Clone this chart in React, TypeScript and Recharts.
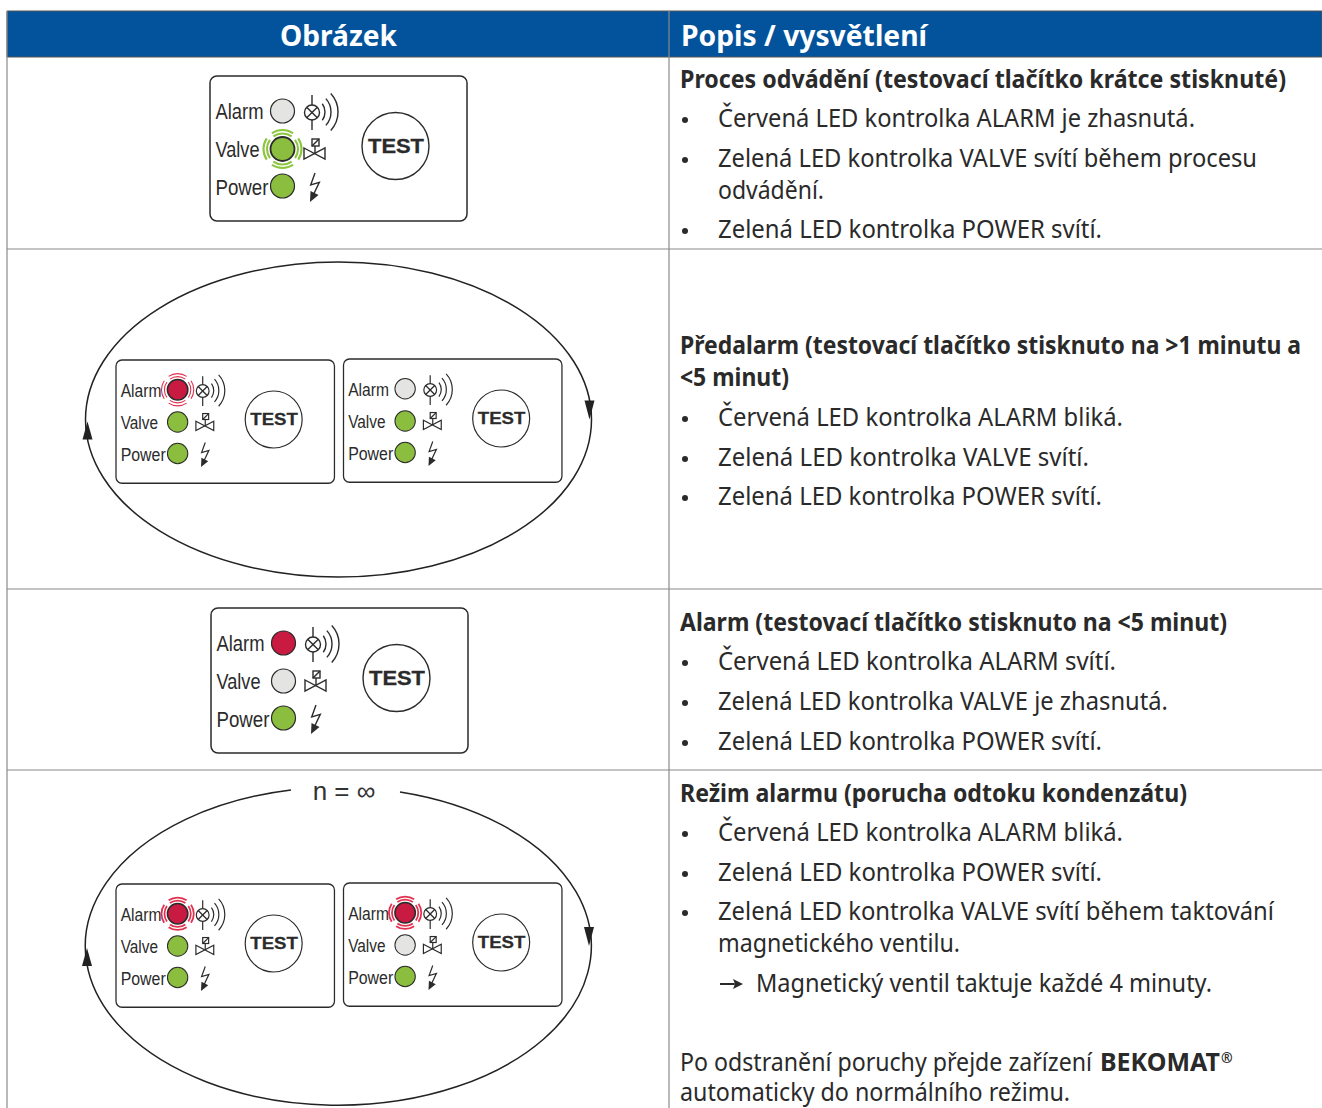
import React from 'react';
import { ScatterChart, Scatter, XAxis, YAxis, ReferenceArea, ReferenceLine } from 'recharts';

const WIDTH = 1322;
const HEIGHT = 1108;
const TEXT_FONT = '"Noto Sans", sans-serif';
const PANEL_FONT = '"Liberation Sans", Arial, sans-serif';

// Table structure
const rowLines = [249, 589, 770];
const columnLines = [7, 669];

// x / end are where each line starts and stops, y is its baseline
const headerLabels = [
  { x: 280, end: 397, y: 46, text: 'Obrázek' },
  { x: 681, end: 927, y: 46, text: 'Popis / vysvětlení' },
];

const headingLines = [
  { x: 680, end: 1286, y: 88, text: 'Proces odvádění (testovací tlačítko krátce stisknuté)' },
  { x: 680, end: 1301, y: 354, text: 'Předalarm (testovací tlačítko stisknuto na >1 minutu a' },
  { x: 680, end: 789, y: 386, text: '<5 minut)' },
  { x: 680, end: 1227, y: 631, text: 'Alarm (testovací tlačítko stisknuto na <5 minut)' },
  { x: 680, end: 1187, y: 802, text: 'Režim alarmu (porucha odtoku kondenzátu)' },
  { x: 1100, end: 1220, y: 1071, text: 'BEKOMAT' },
];

const bodyLines = [
  { x: 718, end: 1195, y: 127, text: 'Červená LED kontrolka ALARM je zhasnutá.' },
  { x: 718, end: 1257, y: 167, text: 'Zelená LED kontrolka VALVE svítí během procesu' },
  { x: 718, end: 824, y: 199, text: 'odvádění.' },
  { x: 718, end: 1102, y: 238, text: 'Zelená LED kontrolka POWER svítí.' },
  { x: 718, end: 1123, y: 426, text: 'Červená LED kontrolka ALARM bliká.' },
  { x: 718, end: 1089, y: 466, text: 'Zelená LED kontrolka VALVE svítí.' },
  { x: 718, end: 1102, y: 505, text: 'Zelená LED kontrolka POWER svítí.' },
  { x: 718, end: 1116, y: 670, text: 'Červená LED kontrolka ALARM svítí.' },
  { x: 718, end: 1168, y: 710, text: 'Zelená LED kontrolka VALVE je zhasnutá.' },
  { x: 718, end: 1102, y: 750, text: 'Zelená LED kontrolka POWER svítí.' },
  { x: 718, end: 1123, y: 841, text: 'Červená LED kontrolka ALARM bliká.' },
  { x: 718, end: 1102, y: 881, text: 'Zelená LED kontrolka POWER svítí.' },
  { x: 718, end: 1274, y: 920, text: 'Zelená LED kontrolka VALVE svítí během taktování' },
  { x: 718, end: 960, y: 952, text: 'magnetického ventilu.' },
  { x: 756, end: 1212, y: 992, text: 'Magnetický ventil taktuje každé 4 minuty.' },
  { x: 680, end: 1092, y: 1071, text: 'Po odstranění poruchy přejde zařízení' },
  { x: 680, end: 1070, y: 1101, text: 'automaticky do normálního režimu.' },
];

const bulletMarks = [120, 160, 231, 419, 459, 498, 663, 703, 743, 834, 874, 913].map((y) => ({ x: 685, y }));
const arrowMarks = [{ x: 732, y: 984 }];
const superscripts = [{ x: 1221, y: 1063, text: '®' }];
const loopNotes = [{ x: 344, y: 800, text: 'n = ∞' }];

// Status panels: top-left corner, scale and the state of each LED
const panels = [
  { x: 210, y: 76, zoom: 1, alarm: 'off', valve: 'pulse', power: 'on' },
  { x: 116, y: 360, zoom: 0.85, alarm: 'blink', valve: 'on', power: 'on' },
  { x: 343.5, y: 359, zoom: 0.85, alarm: 'off', valve: 'on', power: 'on' },
  { x: 211, y: 608, zoom: 1, alarm: 'on', valve: 'off', power: 'on' },
  { x: 116, y: 884, zoom: 0.85, alarm: 'pulse', valve: 'on', power: 'on' },
  { x: 343.5, y: 883, zoom: 0.85, alarm: 'pulse', valve: 'off', power: 'on' },
];

const loops = [
  { x: 338.5, y: 419.5, rx: 253, ry: 157.5, gap: false },
  { x: 338, y: 946, rx: 253, ry: 159, gap: true },
];

const arc = (cx: number, cy: number, r: number, from: number, to: number) => {
  const a = (from * Math.PI) / 180;
  const b = (to * Math.PI) / 180;
  return `M${cx + r * Math.cos(a)} ${cy + r * Math.sin(a)}A${r} ${r} 0 0 1 ${cx + r * Math.cos(b)} ${cy + r * Math.sin(b)}`;
};

const Led = ({ cy, state, color, ring }: any) => {
  const fill = state === 'off' ? '#e4e5e3' : color;
  const lit = state === 'blink' || state === 'pulse';
  return (
    <g>
      {lit &&
        [0, 90, 180, 270].map((angle) => (
          <g key={angle} fill="none" stroke={ring} strokeWidth={state === 'pulse' ? 2.1 : 1.3}>
            <path d={arc(72.5, cy, 15.5, angle - 36, angle + 36)} />
            <path d={arc(72.5, cy, 19, angle - 34, angle + 34)} />
          </g>
        ))}
      <circle cx={72.5} cy={cy} r={12} fill={fill} stroke="#2b2b2b" strokeWidth={lit ? 1.8 : 1.2} />
    </g>
  );
};

const PanelLabel = ({ y, width, children }: any) => (
  <text x={5.5} y={y} fontFamily={PANEL_FONT} fontSize={22} fill="#2b2b2b" textLength={width} lengthAdjust="spacingAndGlyphs">
    {children}
  </text>
);

const PanelShape = ({ cx, cy, payload }: any) => {
  const { alarm, valve, power, zoom } = payload;
  return (
    <g transform={`translate(${cx} ${cy}) scale(${zoom})`}>
      <rect x={0} y={0} width={257} height={145} rx={7} fill="#fff" stroke="#2b2b2b" strokeWidth={1.5} />
      <PanelLabel y={43} width={48}>Alarm</PanelLabel>
      <PanelLabel y={81} width={44}>Valve</PanelLabel>
      <PanelLabel y={119} width={53}>Power</PanelLabel>
      <Led cy={35} state={alarm} color="#c91a42" ring="#e2314f" />
      <Led cy={73} state={valve} color="#8bbd3e" ring="#8cc63f" />
      <Led cy={110} state={power} color="#8bbd3e" ring="#8cc63f" />

      <g fill="none" stroke="#2b2b2b" strokeWidth={1.4}>
        {/* horn */}
        <line x1={102} y1={19} x2={102} y2={54} />
        <circle cx={102} cy={36.5} r={7.5} fill="#fff" />
        <line x1={96.7} y1={31.2} x2={107.3} y2={41.8} />
        <line x1={107.3} y1={31.2} x2={96.7} y2={41.8} />
        <path d={arc(101, 36, 14, -36, 36)} />
        <path d={arc(101, 36, 20, -42, 42)} />
        <path d={arc(101, 36, 27, -43, 43)} />
        {/* valve */}
        <rect x={102} y={63} width={7} height={7} />
        <line x1={102} y1={70} x2={109} y2={63} />
        <line x1={105} y1={70} x2={105} y2={77.5} />
        <path d="M94 72L115 83V72L94 83Z" />
      </g>
      {/* power bolt */}
      <path d="M105 97L100.7 109L109.3 106.3L103.3 119" fill="none" stroke="#2b2b2b" strokeWidth={1.4} />
      <path d="M100 126L100.5 115L108.5 119Z" fill="#2b2b2b" />

      <circle cx={185.5} cy={70} r={33.5} fill="#fff" stroke="#2b2b2b" strokeWidth={1.4} />
      <text x={186} y={77} textAnchor="middle" fontFamily={PANEL_FONT} fontWeight={700} fontSize={20} fill="#2b2b2b" stroke="#2b2b2b" strokeWidth={0.3} textLength={56} lengthAdjust="spacingAndGlyphs">
        TEST
      </text>
    </g>
  );
};

const LoopShape = ({ cx, cy, payload }: any) => {
  const { rx, ry, gap } = payload;
  const d = gap
    ? `M${cx + 62} ${cy - 154}A${rx} ${ry} 0 1 1 ${cx - 47} ${cy - 156}`
    : `M${cx - rx} ${cy}A${rx} ${ry} 0 1 1 ${cx + rx} ${cy}A${rx} ${ry} 0 1 1 ${cx - rx} ${cy}`;
  return (
    <g fill="#222">
      <path d={d} fill="none" stroke="#222" strokeWidth={1.5} />
      <path d={`M${cx + 251} ${cy}L${cx + 246} ${cy - 19}H${cx + 256}Z`} />
      <path d={`M${cx - 251} ${cy + 2}L${cx - 256} ${cy + 20}H${cx - 246}Z`} />
    </g>
  );
};

// the original typeface is narrower than Noto Sans, so each line is fitted to its width
const makeText = (size: number, weight: number, fill: string) => ({ cx, cy, payload }: any) => (
  <text
    x={cx}
    y={cy}
    fontFamily={TEXT_FONT}
    fontSize={size}
    fontWeight={weight}
    fill={fill}
    textLength={payload.end ? payload.end - payload.x : undefined}
    lengthAdjust="spacingAndGlyphs"
  >
    {payload.text}
  </text>
);

const HeaderText = makeText(29, 700, '#fff');
const HeadingText = makeText(24.5, 700, '#2a2a2a');
const BodyText = makeText(24.5, 400, '#2a2a2a');
const SupText = makeText(14, 700, '#2a2a2a');
const NoteText = ({ cx, cy, payload }: any) => (
  <text x={cx} y={cy} fontFamily={PANEL_FONT} fontSize={26} fill="#333" textAnchor="middle">
    {payload.text}
  </text>
);
const BulletShape = ({ cx, cy }: any) => <circle cx={cx} cy={cy} r={3} fill="#2a2a2a" />;
const ArrowShape = ({ cx, cy }: any) => (
  <path d={`M${cx - 12} ${cy - 1}H${cx + 3}V${cy + 1}H${cx - 12}ZM${cx + 11} ${cy}L${cx + 1} ${cy - 5}L${cx + 3} ${cy}L${cx + 1} ${cy + 5}Z`} fill="#2a2a2a" />
);

export default function App() {
  return (
    <div style={{ position: 'absolute', left: 0, top: 0, width: WIDTH, height: HEIGHT, background: '#fff' }}>
      <ScatterChart width={WIDTH} height={HEIGHT} margin={{ top: 0, right: 0, bottom: 0, left: 0 }}>
        <XAxis type="number" dataKey="x" domain={[0, WIDTH]} hide />
        <YAxis type="number" dataKey="y" domain={[0, HEIGHT]} reversed hide />

        <ReferenceArea x1={7} x2={WIDTH} y1={11} y2={57} fill="#02539b" fillOpacity={1} stroke="#555" strokeWidth={1} />
        {rowLines.map((y) => (
          <ReferenceLine key={y} stroke="#8a8a8a" strokeWidth={1.2} segment={[{ x: 7, y }, { x: WIDTH, y }]} />
        ))}
        {columnLines.map((x) => (
          <ReferenceLine key={x} stroke="#8a8a8a" strokeWidth={1.2} segment={[{ x, y: 11 }, { x, y: HEIGHT }]} />
        ))}

        <Scatter data={loops} shape={LoopShape} isAnimationActive={false} />
        <Scatter data={panels} shape={PanelShape} isAnimationActive={false} />
        <Scatter data={loopNotes} shape={NoteText} isAnimationActive={false} />
        <Scatter data={headerLabels} shape={HeaderText} isAnimationActive={false} />
        <Scatter data={headingLines} shape={HeadingText} isAnimationActive={false} />
        <Scatter data={bodyLines} shape={BodyText} isAnimationActive={false} />
        <Scatter data={superscripts} shape={SupText} isAnimationActive={false} />
        <Scatter data={bulletMarks} shape={BulletShape} isAnimationActive={false} />
        <Scatter data={arrowMarks} shape={ArrowShape} isAnimationActive={false} />
      </ScatterChart>
    </div>
  );
}
